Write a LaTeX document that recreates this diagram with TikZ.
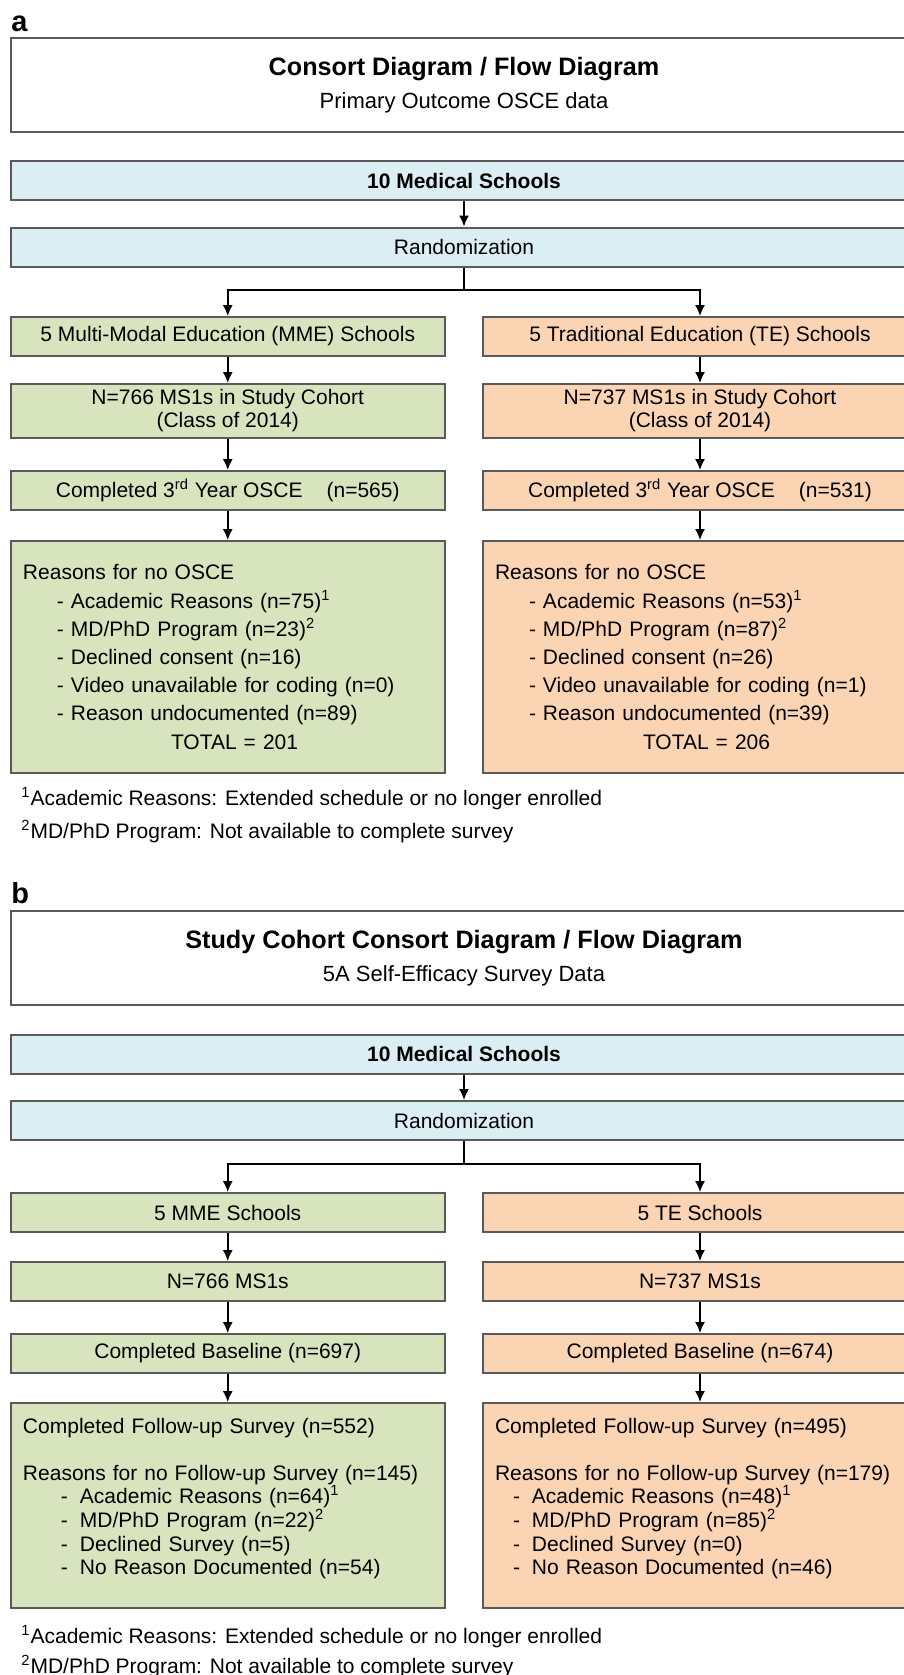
\documentclass[tikz,border=0pt]{standalone}
\usepackage{fontspec}
\setmainfont{Liberation Sans}
\usetikzlibrary{arrows.meta}
\definecolor{hdrblue}{HTML}{DBEEF4}
\definecolor{mmegreen}{HTML}{D7E4BD}
\definecolor{tepeach}{HTML}{FBD4B4}
\definecolor{edgegray}{HTML}{5A5A5A}
\newcommand{\itema}{\hspace*{17pt}- }
\newcommand{\itemb}{\hspace*{19pt}-\hspace{6pt}}
\newcommand{\itemc}{\hspace*{9pt}-\hspace{6pt}}
\begin{document}
\begin{tikzpicture}[x=0.5pt,y=-0.5pt,>={Latex[length=5.5pt,width=5pt]},
    font=\fontsize{10.5}{14.1}\selectfont,
    box/.style={draw=edgegray,line width=1pt,inner sep=0pt,minimum height=19.5pt},
    titlebox/.style={box,fill=white,minimum width=453pt,minimum height=47pt,align=center,font=\fontsize{11}{16.5}\selectfont},
    bluebox/.style={box,fill=hdrblue,minimum width=453pt},
    mmebox/.style={box,fill=mmegreen,minimum width=216.75pt},
    tebox/.style={box,fill=tepeach,minimum width=217pt},
    listbox/.style={inner xsep=6pt,align=left},
    panel/.style={anchor=base west,inner sep=0pt,font=\fontsize{14.5}{16}\selectfont\bfseries},
    note/.style={anchor=base west,inner sep=0pt},
    conn/.style={line width=0.75pt}]
\useasboundingbox (0,0) rectangle (904,1675);
\clip (0,0) rectangle (904,1675);

\node[panel] (lblA) at (11,32) {a};
\node[titlebox] (titA) at (464,85.5) {{\fontsize{12.6}{16.5}\selectfont\bfseries Consort Diagram / Flow Diagram}\\Primary Outcome OSCE data};
\node[bluebox,font=\fontsize{10.5}{14.1}\selectfont\bfseries] (msA) at (464,180.5) {10 Medical Schools};
\node[bluebox] (rndA) at (464,247) {Randomization};
\coordinate (spA) at (464,290);
\node[mmebox] (mmeA) at (227.75,336.5) {5 Multi-Modal Education (MME) Schools};
\node[tebox] (teA) at (700,336.5) {5 Traditional Education (TE) Schools};
\node[mmebox,minimum height=27pt,align=center,font=\fontsize{10.5}{11.5}\selectfont] (cohA) at (227.75,411) {N=766 MS1s in Study Cohort\\(Class of 2014)};
\node[tebox,minimum height=27pt,align=center,font=\fontsize{10.5}{11.5}\selectfont] (cohTA) at (700,411) {N=737 MS1s in Study Cohort\\(Class of 2014)};
\node[mmebox] (oscA) at (227.75,490.5) {Completed 3\textsuperscript{rd} Year OSCE\hspace{12pt}(n=565)};
\node[tebox] (oscTA) at (700,490.5) {Completed 3\textsuperscript{rd} Year OSCE\hspace{12pt}(n=531)};
\node[mmebox,listbox,text width=204.75pt,minimum height=116pt] (whyA) at (227.75,657) {Reasons for no OSCE\\
\itema Academic Reasons (n=75)\textsuperscript{1}\\
\itema MD/PhD Program (n=23)\textsuperscript{2}\\
\itema Declined consent (n=16)\\
\itema Video unavailable for coding (n=0)\\
\itema Reason undocumented (n=89)\\
\hspace*{74pt}TOTAL = 201};
\node[tebox,listbox,text width=205pt,minimum height=116pt] (whyTA) at (700,657) {Reasons for no OSCE\\
\itema Academic Reasons (n=53)\textsuperscript{1}\\
\itema MD/PhD Program (n=87)\textsuperscript{2}\\
\itema Declined consent (n=26)\\
\itema Video unavailable for coding (n=1)\\
\itema Reason undocumented (n=39)\\
\hspace*{74pt}TOTAL = 206};
\node[note] (fnA1) at (21,805) {\textsuperscript{1}Academic Reasons: Extended schedule or no longer enrolled};
\node[note] (fnA2) at (21,838) {\textsuperscript{2}MD/PhD Program: Not available to complete survey};

\node[panel] (lblB) at (11,903) {b};
\node[titlebox] (titB) at (464,958) {{\fontsize{12.6}{16.5}\selectfont\bfseries Study Cohort Consort Diagram / Flow Diagram}\\5A Self-Efficacy Survey Data};
\node[bluebox,font=\fontsize{10.5}{14.1}\selectfont\bfseries] (msB) at (464,1054) {10 Medical Schools};
\node[bluebox] (rndB) at (464,1120.5) {Randomization};
\coordinate (spB) at (464,1164);
\node[mmebox] (mmeB) at (227.75,1212.5) {5 MME Schools};
\node[tebox] (teB) at (700,1212.5) {5 TE Schools};
\node[mmebox] (cohB) at (227.75,1281.5) {N=766 MS1s};
\node[tebox] (cohTB) at (700,1281.5) {N=737 MS1s};
\node[mmebox] (basB) at (227.75,1353.5) {Completed Baseline (n=697)};
\node[tebox] (basTB) at (700,1353.5) {Completed Baseline (n=674)};
\node[mmebox,listbox,text width=204.75pt,minimum height=102.5pt,font=\fontsize{10.5}{11.8}\selectfont] (whyB) at (227.75,1505.5) {Completed Follow-up Survey (n=552)\\[11.8pt]
Reasons for no Follow-up Survey (n=145)\\
\itemb Academic Reasons (n=64)\textsuperscript{1}\\
\itemb MD/PhD Program (n=22)\textsuperscript{2}\\
\itemb Declined Survey (n=5)\\
\itemb No Reason Documented (n=54)\\[-2.6pt]\mbox{}};
\node[tebox,listbox,text width=205pt,minimum height=102.5pt,font=\fontsize{10.5}{11.8}\selectfont] (whyTB) at (700,1505.5) {Completed Follow-up Survey (n=495)\\[11.8pt]
Reasons for no Follow-up Survey (n=179)\\
\itemc Academic Reasons (n=48)\textsuperscript{1}\\
\itemc MD/PhD Program (n=85)\textsuperscript{2}\\
\itemc Declined Survey (n=0)\\
\itemc No Reason Documented (n=46)\\[-2.6pt]\mbox{}};
\node[note] (fnB1) at (21,1643) {\textsuperscript{1}Academic Reasons: Extended schedule or no longer enrolled};
\node[note] (fnB2) at (21,1673) {\textsuperscript{2}MD/PhD Program: Not available to complete survey};

\foreach \p/\q in {msA/rndA,mmeA/cohA,cohA/oscA,oscA/whyA,teA/cohTA,cohTA/oscTA,oscTA/whyTA,
    msB/rndB,mmeB/cohB,cohB/basB,basB/whyB,teB/cohTB,cohTB/basTB,basTB/whyTB}
  \draw[conn,->] (\p) -- (\q);
\draw[conn] (rndA) -- (spA);
\draw[conn,->] (spA) -| (mmeA);
\draw[conn,->] (spA) -| (teA);
\draw[conn] (rndB) -- (spB);
\draw[conn,->] (spB) -| (mmeB);
\draw[conn,->] (spB) -| (teB);
\end{tikzpicture}
\end{document}
